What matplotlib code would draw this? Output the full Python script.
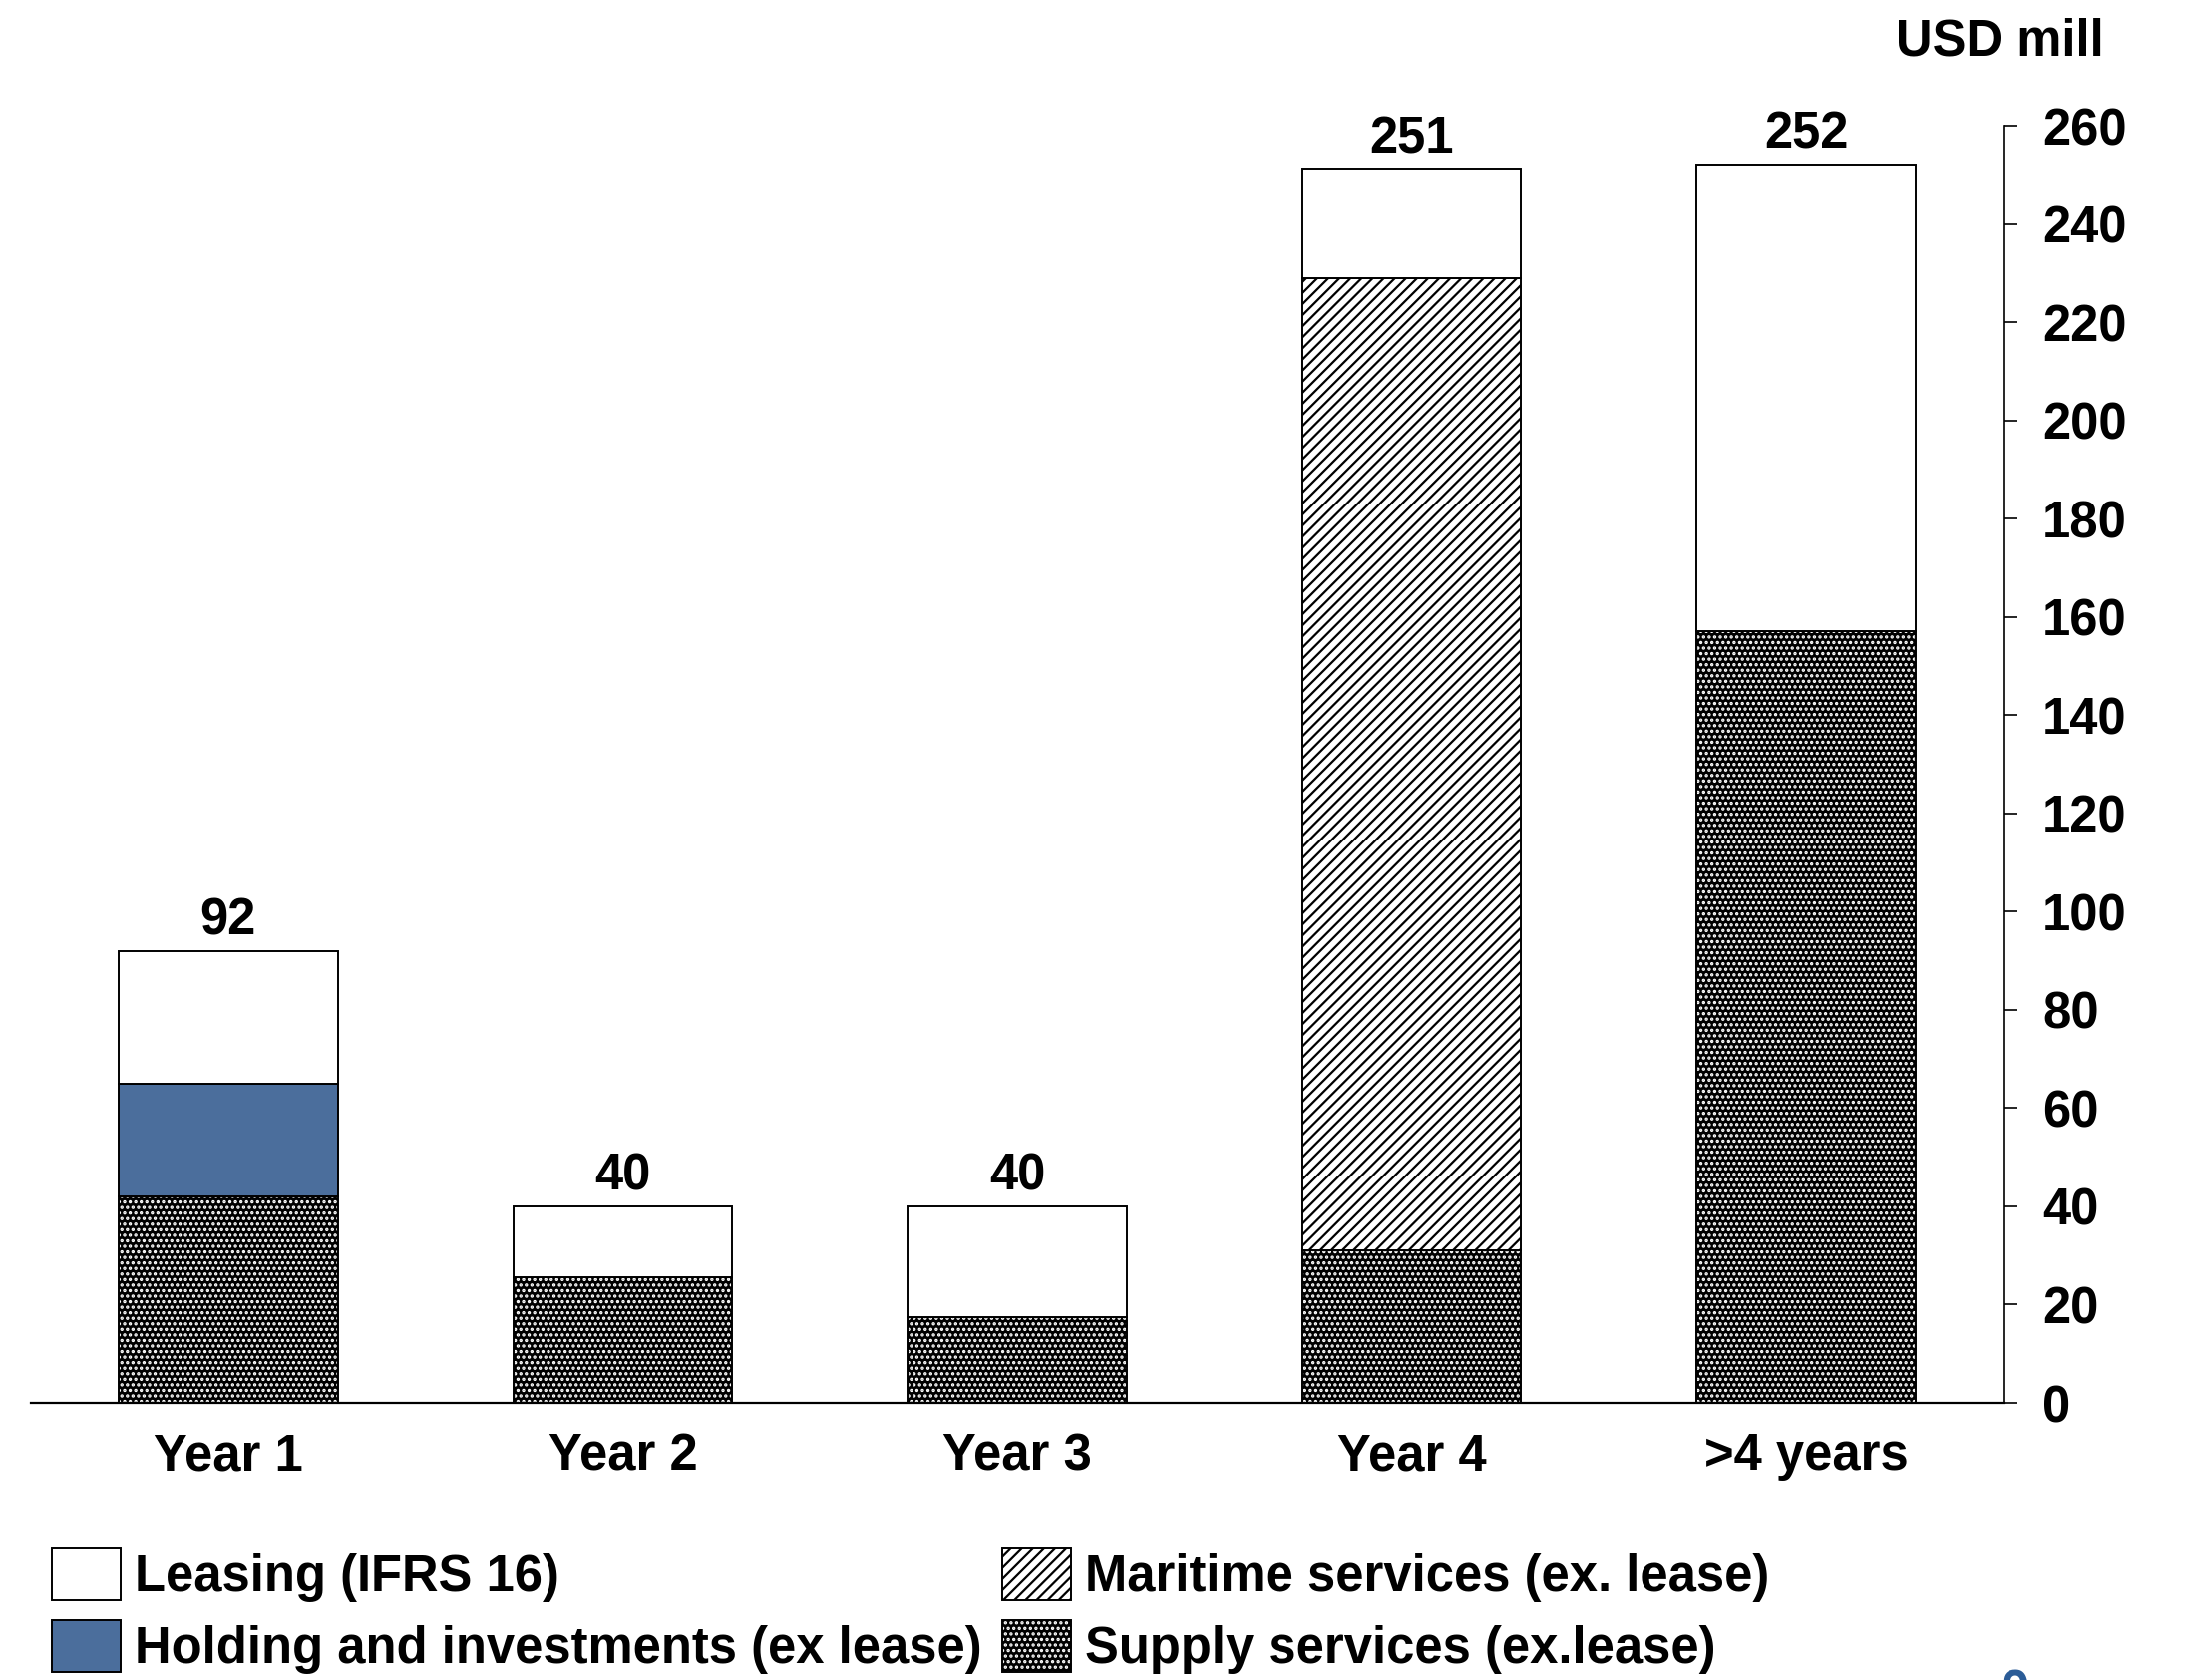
import matplotlib
matplotlib.use("Agg")
import matplotlib.pyplot as plt
from matplotlib.patches import Patch
import numpy as np

plt.rcParams['font.family'] = ['Liberation Sans', 'DejaVu Sans']
plt.rcParams['font.weight'] = 'bold'
plt.rcParams['hatch.linewidth'] = 1.6

categories = ["Year 1", "Year 2", "Year 3", "Year 4", ">4 years"]
supply = [42, 25.5, 17.5, 31, 157]
holding = [23, 0, 0, 0, 0]
maritime = [0, 0, 0, 198, 0]
leasing = [27, 14.5, 22.5, 22, 95]
totals = [92, 40, 40, 251, 252]
yticks = list(range(0, 261, 20))

BLUE = '#4B6E9C'
FS = 36.5

fig = plt.figure(figsize=(21.98, 16.85), dpi=100)
ax = fig.add_axes([31 / 2198, 1 - 1407 / 1685, (2009 - 31) / 2198, (1407 - 126) / 1685])

x = np.arange(len(categories))
w = 0.555
bottom = np.zeros(len(categories))

# supply: black fill with white dots, outlined separately
ax.bar(x, supply, w, bottom=bottom, color='black', edgecolor='white', hatch='...', linewidth=0)
ax.bar(x, supply, w, bottom=bottom, fill=False, edgecolor='black', linewidth=1.4)
bottom += supply

ax.bar(x, holding, w, bottom=bottom, color=BLUE, edgecolor='black', linewidth=1.4)
bottom += holding

ax.bar(x, maritime, w, bottom=bottom, color='white', edgecolor='black', hatch='///', linewidth=1.4)
bottom += maritime

ax.bar(x, leasing, w, bottom=bottom, color='white', edgecolor='black', linewidth=1.4)
bottom += leasing

for xi, t in zip(x, totals):
    ax.annotate(str(t), (xi, t), xytext=(0, 12), textcoords='offset points',
                ha='center', va='baseline', fontsize=FS, fontweight='bold')

ax.set_xlim(-0.5, 4.5)
ax.set_ylim(0, 260)
ax.set_xticks(x)
ax.set_xticklabels(categories, fontsize=FS, fontweight='bold')
ax.tick_params(axis='x', length=0, pad=21)

ax.yaxis.tick_right()
ax.set_yticks(yticks)
ax.tick_params(axis='y', direction='out', length=10, width=1.2, pad=18, labelsize=FS)

for side in ['left', 'top']:
    ax.spines[side].set_visible(False)
ax.spines['right'].set_linewidth(1.2)
ax.spines['bottom'].set_linewidth(1.6)

fig.text(2110 / 2198, 1 - 42 / 1685, "USD mill", ha='right', va='center',
         fontsize=FS, fontweight='bold')

# legend, two columns placed separately
leg_kw = dict(frameon=False, fontsize=FS, handlelength=1.36, handleheight=1.2,
              handletextpad=0.28, labelspacing=0.36, borderpad=0, borderaxespad=0,
              loc='upper left')
h_leasing = Patch(facecolor='white', edgecolor='black', linewidth=1.4)
h_holding = Patch(facecolor=BLUE, edgecolor='black', linewidth=1.4)
h_maritime = Patch(facecolor='white', edgecolor='black', hatch='///', linewidth=1.4)
h_supply = (Patch(facecolor='black', edgecolor='white', hatch='...', linewidth=0),
            Patch(fill=False, edgecolor='black', linewidth=1.4))

leg1 = fig.legend([h_leasing, h_holding], ["Leasing (IFRS 16)", "Holding and investments (ex lease)"],
                  bbox_to_anchor=(52 / 2198, 1 - 1553 / 1685), **leg_kw)
leg2 = fig.legend([h_maritime, h_supply], ["Maritime services (ex. lease)", "Supply services (ex.lease)"],
                  bbox_to_anchor=(1005 / 2198, 1 - 1553 / 1685), **leg_kw)

# page number, cut off at the bottom edge
fig.text(2020 / 2198, 12 / 1685, "9", color='#2B5C97', ha='center', va='top',
         fontsize=FS, fontweight='bold')

fig.savefig("out.png", dpi=100)
